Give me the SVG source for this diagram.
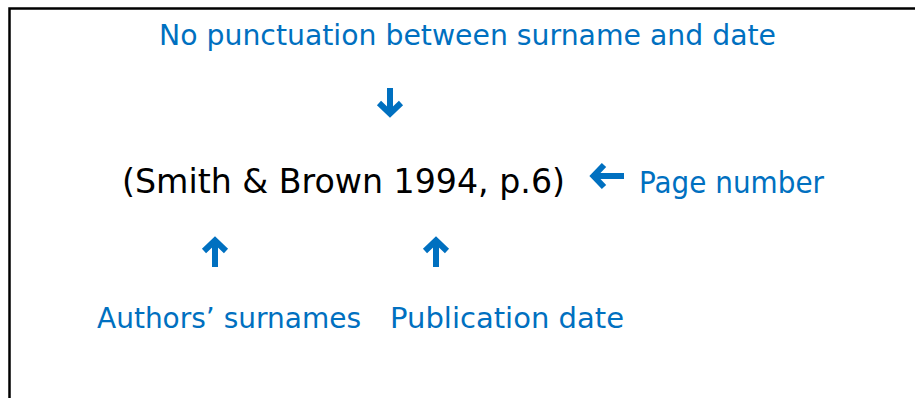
<svg xmlns="http://www.w3.org/2000/svg" width="915" height="398" viewBox="0 0 915 398">
  <style>
    .lbl { font-family: "DejaVu Sans", "Liberation Sans", sans-serif; fill: #0070C0; font-size: 28px; }
    .main { font-family: "DejaVu Sans", "Liberation Sans", sans-serif; fill: #000; font-size: 33px; }
    .arr { fill: none; stroke: #0070C0; stroke-width: 6; stroke-linejoin: miter; stroke-miterlimit: 10; }
  </style>
  <rect x="0" y="0" width="915" height="398" fill="#fff"/>
  <path d="M9.5,398 V8.5 H915" fill="none" stroke="#000" stroke-width="2.5"/>

  <g id="node-punctuation">
    <text class="lbl" x="159" y="45" textLength="617" lengthAdjust="spacingAndGlyphs">No punctuation between surname and date</text>
  </g>
  <g id="node-citation">
    <text class="main" x="122" y="193" textLength="443" lengthAdjust="spacingAndGlyphs">(Smith &amp; Brown 1994, p.6)</text>
  </g>
  <g id="node-page">
    <text class="lbl" x="639" y="193" textLength="185" lengthAdjust="spacingAndGlyphs" style="font-size:31px">Page number</text>
  </g>
  <g id="node-authors">
    <text class="lbl" x="97" y="328" textLength="264" lengthAdjust="spacingAndGlyphs">Authors’ surnames</text>
  </g>
  <g id="node-date">
    <text class="lbl" x="390" y="328" textLength="234" lengthAdjust="spacingAndGlyphs">Publication date</text>
  </g>

  <g id="connectors">
    <path class="arr" d="M390,88 V112 M379,103 L390,113.5 L401,103"/>
    <path class="arr" d="M624,176 H595 M604,165 L593.5,176 L604,187"/>
    <path class="arr" d="M215,267 V242 M204,251 L215,240.5 L226,251"/>
    <path class="arr" d="M436,267 V242 M425,251 L436,240.5 L447,251"/>
  </g>
</svg>
